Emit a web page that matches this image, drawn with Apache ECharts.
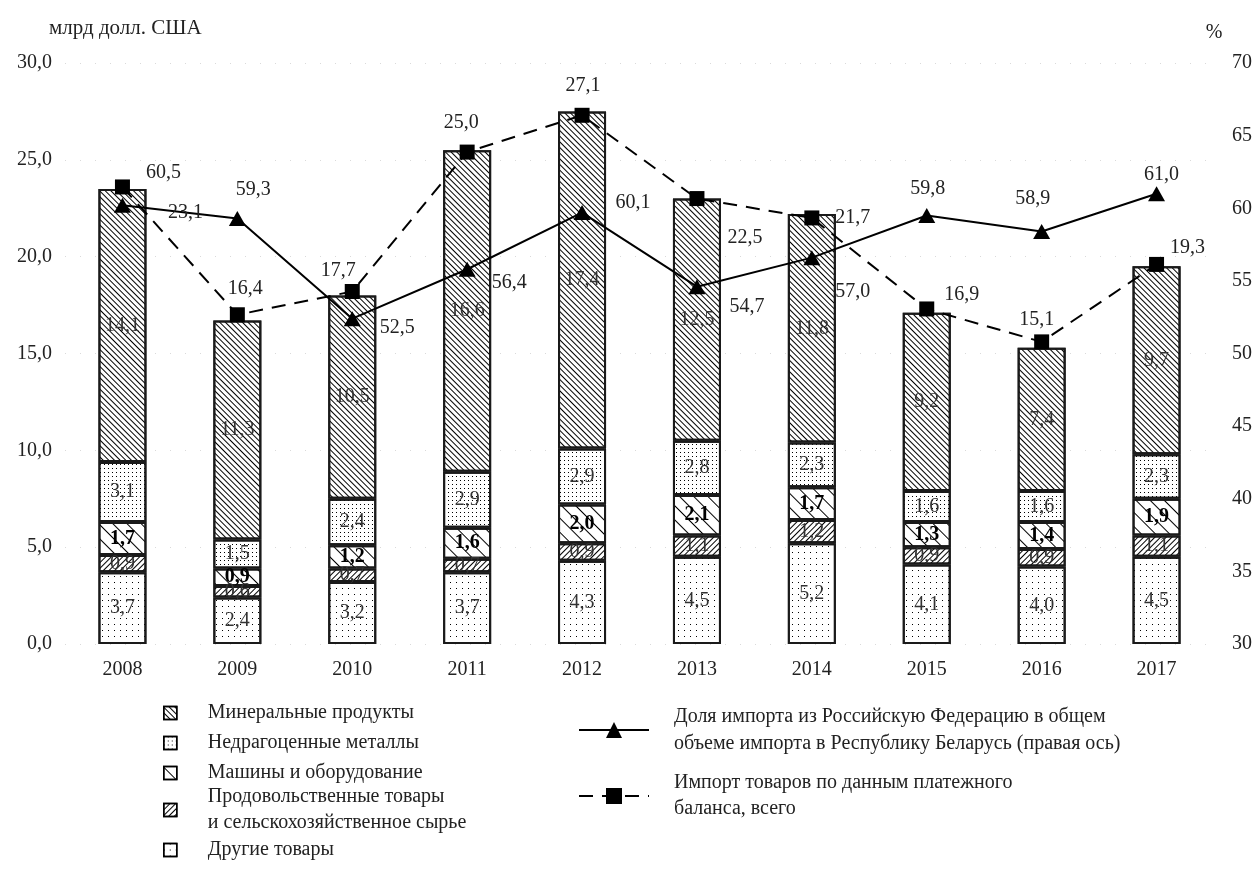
<!DOCTYPE html>
<html><head><meta charset="utf-8">
<script src="https://cdn.jsdelivr.net/npm/echarts@6/dist/echarts.min.js"></script>
<style>html,body{margin:0;padding:0;background:#fff}#c{width:1257px;height:869px}</style>
</head><body><div id="c"></div>
<script>
// ---- data ----
const years = ['2008','2009','2010','2011','2012','2013','2014','2015','2016','2017'];
const otherGoods = [3.7, 2.4, 3.2, 3.7, 4.3, 4.5, 5.2, 4.1, 4.0, 4.5];
const foodGoods  = [0.9, 0.6, 0.7, 0.7, 0.9, 1.1, 1.2, 0.9, 0.9, 1.1];
const machinery  = [1.7, 0.9, 1.2, 1.6, 2.0, 2.1, 1.7, 1.3, 1.4, 1.9];
const metals     = [3.1, 1.5, 2.4, 2.9, 2.9, 2.8, 2.3, 1.6, 1.6, 2.3];
const minerals   = [14.1, 11.3, 10.5, 16.6, 17.4, 12.5, 11.8, 9.2, 7.4, 9.7];
// import total (balance of payments): printed values and marker positions as drawn
const importLabels  = [23.1, 16.4, 17.7, 25.0, 27.1, 22.5, 21.7, 16.9, 15.1, 19.3];
const importMarkers = [23.6, 17.0, 18.2, 25.4, 27.3, 23.0, 22.0, 17.3, 15.6, 19.6];
// share of Russia in imports (right axis): printed values and marker positions as drawn
const shareLabels  = [60.5, 59.3, 52.5, 56.4, 60.1, 54.7, 57.0, 59.8, 58.9, 61.0];
const shareMarkers = [60.2, 59.3, 52.4, 55.8, 59.7, 54.6, 56.6, 59.5, 58.4, 61.0];

// ---- label placement (style, not data) ----
const shareLabelOffsets  = [[41,-33],[16,-29],[45,9],[42,13],[51,-10],[50,20],[41,34],[1,-27],[-9,-33],[5,-19]];
const importLabelOffsets = [[63,26],[8,-26],[-14,-21],[-6,-29],[1,-30],[48,39],[41,0],[35,-14],[-5,-22],[31,-17]];

const FONT = 'Liberation Serif, Times New Roman, serif';
const fmt1 = v => Number(v).toFixed(1).replace('.', ',');

const names = {
  min: 'Минеральные продукты',
  met: 'Недрагоценные металлы',
  mach: 'Машины и оборудование',
  food: 'Продовольственные товары и сельскохозяйственное сырье',
  oth: 'Другие товары',
  share: 'Доля импорта из Российскую Федерацию в общем объеме импорта в Республику Беларусь (правая ось)',
  imp: 'Импорт товаров по данным платежного баланса, всего'
};
const legendText = {};
legendText[names.food] = 'Продовольственные товары\nи сельскохозяйственное сырье';
legendText[names.share] = 'Доля импорта из Российскую Федерацию в общем\nобъеме импорта в Республику Беларусь (правая ось)';
legendText[names.imp] = 'Импорт товаров по данным платежного\nбаланса, всего';

const R = Math.PI / 4;
const decals = {
  min:  {symbol:'rect', symbolSize:1, dashArrayX:[1,0], dashArrayY:[1,3], rotation: R, color:'#000'},
  met:  {symbol:'rect', symbolSize:1, dashArrayX:[1,3], dashArrayY:[1,3], rotation: 0, color:'#000'},
  mach: {symbol:'rect', symbolSize:1, dashArrayX:[1,0], dashArrayY:[1,9], rotation: R, color:'#000'},
  food: {symbol:'rect', symbolSize:1, dashArrayX:[1,0], dashArrayY:[1,3], rotation: -R, color:'#000'},
  oth:  {symbol:'rect', symbolSize:1, dashArrayX:[1,5], dashArrayY:[1,5], rotation: 0, color:'#000'}
};

function barSeries(key, data, bold) {
  return {
    name: names[key], type: 'bar', stack: 'goods', barWidth: 48, data: data,
    itemStyle: {color:'#fff', borderColor:'#1a1a1a', borderWidth:2, decal: decals[key]},
    label: {show:true, position:'inside', fontFamily:FONT, fontSize:20,
            color: bold ? '#000' : '#333', fontWeight: bold ? 'bold' : 'normal',
            formatter: p => fmt1(p.value)},
    emphasis: {disabled:true}, z: 2
  };
}

const shareData = shareMarkers.map((v, i) => ({value: v, label: {offset: shareLabelOffsets[i]}}));
const importData = importMarkers.map((v, i) => ({value: v, label: {offset: importLabelOffsets[i]}}));

const legendBase = {
  orient:'vertical', padding:0, itemWidth:13, itemHeight:13, selectedMode:false, icon:'rect',
  itemStyle:{borderWidth:1.5, borderColor:'#000'},
  textStyle:{fontFamily:FONT, fontSize:20, color:'#222', lineHeight:26, padding:[0,0,0,26]},
  formatter: n => legendText[n] || n
};
const lineLegend = {
  orient:'vertical', padding:0, itemWidth:70, itemHeight:20, selectedMode:false,
  textStyle:{fontFamily:FONT, fontSize:20, color:'#222', lineHeight:27, padding:[0,0,0,20]},
  formatter: n => legendText[n] || n
};
const legends = [
  Object.assign({}, legendBase, {data:[names.min], left:163, top:700}),
  Object.assign({}, legendBase, {data:[names.met], left:163, top:730}),
  Object.assign({}, legendBase, {data:[names.mach], left:163, top:760}),
  Object.assign({}, legendBase, {data:[names.food], left:163, top:784}),
  Object.assign({}, legendBase, {data:[names.oth], left:163, top:837}),
  Object.assign({}, lineLegend, {data:[names.share], left:578, top:703}),
  Object.assign({}, lineLegend, {data:[names.imp], left:578, top:770,
    textStyle:Object.assign({}, lineLegend.textStyle, {lineHeight:26})})
];

const option = {
  backgroundColor:'#fff',
  animation:false,
  textStyle:{fontFamily:FONT},
  title:{text:'млрд долл. США', left:44, top:13,
         textStyle:{fontFamily:FONT, fontSize:21, fontWeight:'normal', color:'#222'}},
  legend: legends,
  grid:{left:65, right:43, top:63, bottom:225, containLabel:false},
  xAxis:{type:'category', data:years,
         axisLine:{show:false}, axisTick:{show:false},
         axisLabel:{margin:16, fontFamily:FONT, fontSize:20, color:'#222'}},
  yAxis:[
    {type:'value', min:0, max:30, interval:5,
     axisLine:{show:false}, axisTick:{show:false},
     axisLabel:{margin:13, fontFamily:FONT, fontSize:20, color:'#222', formatter: v => fmt1(v)},
     splitLine:{show:true, lineStyle:{color:'#dadada', width:1, type:[1,14]}}},
    {type:'value', min:30, max:70, interval:5, position:'right',
     name:'%', nameLocation:'end', nameGap:20,
     nameTextStyle:{fontFamily:FONT, fontSize:20, color:'#222', align:'center'},
     axisLine:{show:false}, axisTick:{show:false},
     axisLabel:{margin:18, fontFamily:FONT, fontSize:20, color:'#222'},
     splitLine:{show:false}}
  ],
  series:[
    barSeries('oth', otherGoods, false),
    barSeries('food', foodGoods, false),
    barSeries('mach', machinery, true),
    barSeries('met', metals, false),
    barSeries('min', minerals, false),
    {name:names.share, type:'line', yAxisIndex:1, data:shareData,
     symbol:'triangle', symbolSize:[17,15], showAllSymbol:true,
     lineStyle:{color:'#000', width:2}, itemStyle:{color:'#000'},
     label:{show:true, position:'inside', fontFamily:FONT, fontSize:20, color:'#222',
            formatter: p => fmt1(shareLabels[p.dataIndex])},
     emphasis:{disabled:true}, z:5},
    {name:names.imp, type:'line', yAxisIndex:0, data:importData,
     symbol:'rect', symbolSize:15, showAllSymbol:true,
     lineStyle:{color:'#000', width:2, type:[14,9]}, itemStyle:{color:'#000'},
     label:{show:true, position:'inside', fontFamily:FONT, fontSize:20, color:'#222',
            formatter: p => fmt1(importLabels[p.dataIndex])},
     emphasis:{disabled:true}, z:5}
  ]
};
const chart = echarts.init(document.getElementById('c'), null, {renderer:'canvas'});
chart.setOption(option);
</script></body></html>
